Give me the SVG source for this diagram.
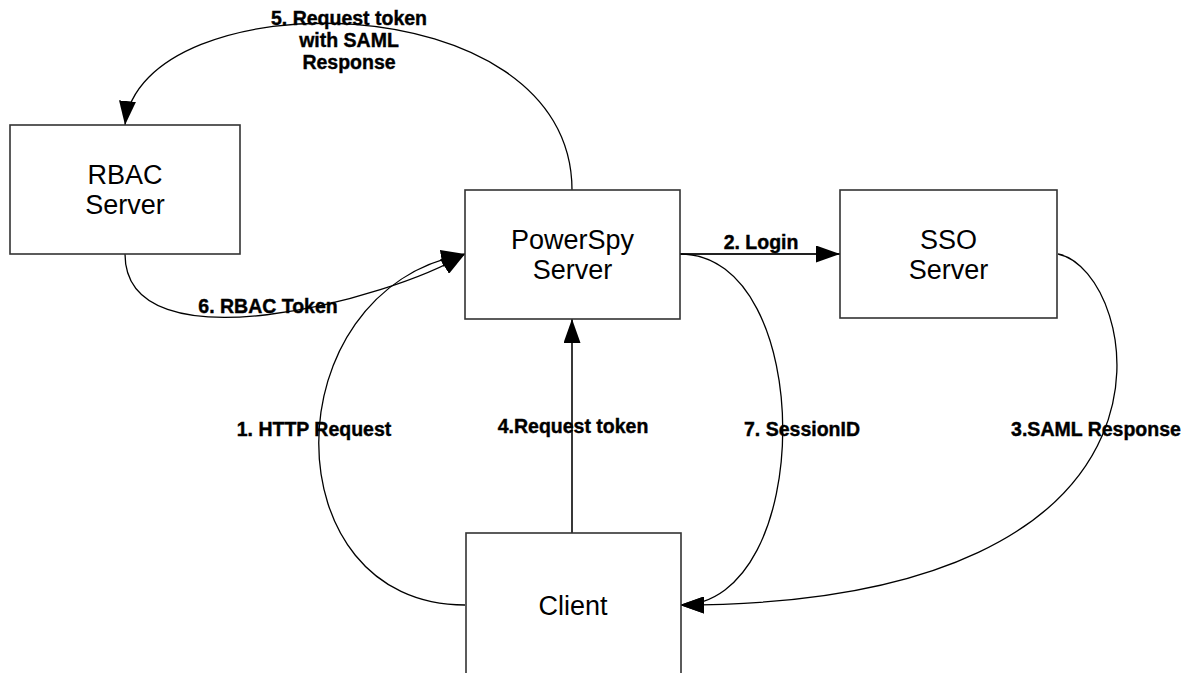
<svg xmlns="http://www.w3.org/2000/svg" width="1198" height="673" viewBox="0 0 1198 673">
  <style>
    .box { fill: #ffffff; stroke: #333333; stroke-width: 1.6; }
    .name { font-family: "Liberation Sans", Arial, sans-serif; font-size: 27px; fill: #000000; text-anchor: middle; }
    .flow { fill: none; stroke: #000000; stroke-width: 1.3; marker-end: url(#tip); }
    .flow.straight { stroke: #222222; stroke-width: 1.8; }
    .lbl { font-family: "Liberation Sans", Arial, sans-serif; font-size: 19.5px; font-weight: bold; fill: #000000; stroke: #000000; stroke-width: 0.4; text-anchor: middle; }
  </style>
  <defs>
    <marker id="tip" markerUnits="userSpaceOnUse" markerWidth="24" markerHeight="17" refX="24" refY="8.5" orient="auto">
      <path d="M0,0 L24,8.5 L0,17 Z" fill="#000000"/>
    </marker>
  </defs>
  <rect width="1198" height="673" fill="#ffffff"/>

  <g id="connectors">
    <!-- 1. HTTP Request: Client -> PowerSpy -->
    <path class="flow" d="M465,605 C270,605 270,290 465,254"/>
    <!-- 2. Login: PowerSpy -> SSO -->
    <path class="flow straight" d="M680,254 L840,254"/>
    <!-- 3. SAML Response: SSO -> Client -->
    <path class="flow" d="M1058,254 C1140,270 1220,605 680,605"/>
    <!-- 4. Request token: Client -> PowerSpy -->
    <path class="flow straight" d="M572,533 L572,319"/>
    <!-- 5. Request token with SAML Response: PowerSpy -> RBAC -->
    <path class="flow" d="M572,190 C572,-20 140,-20 125,125"/>
    <!-- 6. RBAC Token: RBAC -> PowerSpy -->
    <path class="flow" d="M125,254 C125,370 390,300 465,254"/>
    <!-- 7. SessionID: PowerSpy -> Client -->
    <path class="flow" d="M680,254 C817,254 817,605 680,605"/>
  </g>

  <g id="labels">
    <text class="lbl" x="314" y="436">1. HTTP Request</text>
    <text class="lbl" x="761" y="249">2. Login</text>
    <text class="lbl" x="1096" y="436">3.SAML Response</text>
    <text class="lbl" x="573" y="433">4.Request token</text>
    <text class="lbl" x="349" y="25">5. Request token</text>
    <text class="lbl" x="349" y="47">with SAML</text>
    <text class="lbl" x="349" y="69">Response</text>
    <text class="lbl" x="268" y="313">6. RBAC Token</text>
    <text class="lbl" x="802" y="436">7. SessionID</text>
  </g>

  <g id="rbac-server">
    <rect class="box" x="10" y="125" width="230" height="129"/>
    <text class="name" x="125" y="184">RBAC</text>
    <text class="name" x="125" y="214">Server</text>
  </g>

  <g id="powerspy-server">
    <rect class="box" x="465" y="190" width="215" height="129"/>
    <text class="name" x="572.5" y="249">PowerSpy</text>
    <text class="name" x="572.5" y="279">Server</text>
  </g>

  <g id="sso-server">
    <rect class="box" x="840" y="190" width="217" height="128"/>
    <text class="name" x="948.5" y="249">SSO</text>
    <text class="name" x="948.5" y="279">Server</text>
  </g>

  <g id="client">
    <rect class="box" x="466" y="533" width="215" height="160"/>
    <text class="name" x="573" y="615">Client</text>
  </g>
</svg>
